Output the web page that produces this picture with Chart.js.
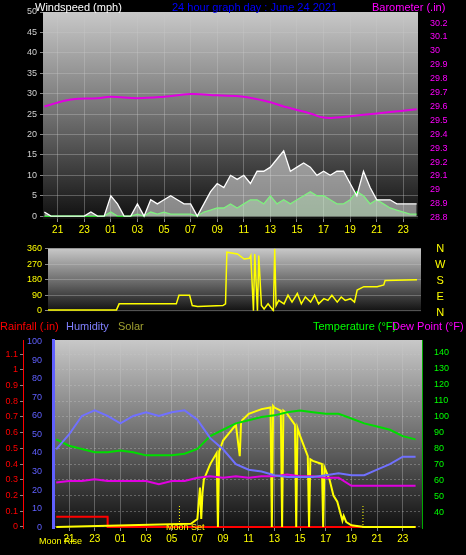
<!DOCTYPE html>
<html><head><meta charset="utf-8">
<script src="https://cdn.jsdelivr.net/npm/chart.js@4.4.1/dist/chart.umd.min.js"></script>
<style>
body{margin:0;background:#000;width:466px;height:555px;overflow:hidden;position:relative;font-family:"Liberation Sans",Arial,sans-serif}
.p{position:absolute}
.t{position:absolute;font-size:11px;white-space:nowrap;line-height:12px}
</style></head><body>
<div class="p" style="left:0;top:0;width:466px;height:240px"><canvas id="c1"></canvas></div>
<div class="p" style="left:0;top:240px;width:466px;height:80px"><canvas id="c2"></canvas></div>
<div class="p" style="left:0;top:320px;width:466px;height:235px"><canvas id="c3"></canvas></div>
<div class="t" style="left:35px;top:1px;color:#fff">Windspeed (mph)</div>
<div class="t" style="left:172px;top:1px;color:#0000ff">24 hour graph day : June 24 2021</div>
<div class="t" style="left:372px;top:1px;color:#ff00ff">Barometer (.in)</div>
<div class="t" style="left:435px;top:240px;color:#ffff00;line-height:16px;text-align:center">N<br>W<br>S<br>E<br>N</div>
<div class="t" style="left:0;top:320px;color:#ff0000">Rainfall (.in)</div>
<div class="t" style="left:66px;top:320px;color:#8080ff">Humidity</div>
<div class="t" style="left:118px;top:320px;color:#a0a030">Solar</div>
<div class="t" style="left:313px;top:320px;color:#00ff00">Temperature (°F)</div>
<div class="t" style="left:392px;top:320px;color:#ff00ff">Dew Point (°F)</div>
<div class="t" style="left:39px;top:535px;color:#ffff00;font-size:9px">Moon Rise</div>
<div class="t" style="left:166px;top:521px;color:#ffff00;font-size:9px">Moon Set</div>
<script>
const hours=[];for(let h=20;h<=48;h+=0.5)hours.push(h);
const gust=[1,0,0,0,0,0,0,1,0,0,5,3,0,0,3,0,4,3,4,5,4,3,3,0,3,6,8,7,10,9,10,8,11,11,12,14,16,11,12,13,12,10,11,10,11,11,8,5,11,7,4,4,4,3,3,3,3];
const avgWind=[0,0,0,0,0,0,0,0,0,0,1,0,0,0,0.5,0,1,0.5,1,0.5,0.5,0.5,0.5,0,1,1.5,2,2,3,2,3,4,4,3,5,3,4,3,4,5,6,5,5,4,3,3,4,6,5,3,4,3,2,1.5,1,0.5,0.5];
const baroHours=[20,22,24,25,27,29,31,33,35,37,38,40,41,42,43,45,47,48];
const baro=[29.60,29.65,29.66,29.67,29.66,29.67,29.69,29.68,29.67,29.63,29.60,29.55,29.52,29.52,29.53,29.55,29.57,29.58];
const dirHours=[20,25.4,25.6,29.9,30.1,30.9,31.1,31.5,33.4,33.6,33.7,34.5,35,35.4,35.5,35.7,35.8,36,36.1,36.3,36.5,36.8,37,37.2,37.3,37.4,37.6,38,38.3,38.6,39,39.3,39.6,40,40.3,40.6,41,41.3,41.6,42,42.3,42.6,43,43.3,43.5,44,45,45.5,45.6,48];
const dirVals=[5,5,40,40,90,90,30,25,30,40,340,330,300,305,320,0,330,0,320,30,10,40,20,0,360,30,60,40,90,50,100,40,80,50,90,40,70,60,90,50,80,60,70,50,120,140,140,150,175,180];
const hh=[20,21,22,23,24,25,26,27,28,29,30,31,32,33,34,35,36,37,38,39,40,41,42,43,44,45,46,47,48];
const humidity=[42,50,60,63,60,56,60,62,60,62,63,58,48,42,34,31,30,28,27,27,27,28,29,28,28,31,34,38,38];
const temperature=[86,82,80,78,78,79,78,76,76,76,77,80,88,92,96,98,100,101,103,104,103,102,102,99,96,94,92,88,86];
const dewPoint=[59,60,60,61,60,60,60,60,58,60,60,62,63,62,63,62,63,63,64,63,63,62,62,57,57,57,57,57,57];
const solarHours=[20,30.5,31,31.2,31.3,31.4,31.5,32,32.5,32.6,32.7,33,33.5,34,34.3,34.4,34.5,35,36,36.7,36.8,36.9,37,37.5,37.6,37.7,38,38.6,38.7,38.8,39,39.6,39.7,39.8,40,40.7,40.8,40.9,41.3,41.6,41.9,42.3,42.4,42.6,43,44,48];
const solar=[0,0.02,0.05,0.25,0.05,0.22,0.3,0.4,0.47,0,0.48,0.55,0.6,0.65,0.45,0.66,0.68,0.72,0.75,0.76,0,0.77,0.76,0.74,0,0.74,0.72,0.65,0,0.63,0.58,0.45,0,0.43,0.42,0.4,0,0.38,0.3,0.2,0.16,0.04,0.07,0.03,0.01,0,0];
const rainHours=[20,24,24.01,48];
const rain=[0.065,0.065,0,0];
const tickHours=[21,23,25,27,29,31,33,35,37,39,41,43,45,47];

const pts=(xs,ys)=>xs.map((x,i)=>({x,y:ys[i]}));
const fmt=v=>String(Math.round(v)%24).padStart(2,'0');
const bg={id:'bg',beforeDraw(c){const a=c.chartArea,g=c.ctx.createLinearGradient(0,a.top,0,a.bottom);g.addColorStop(0,'#c8c8c8');g.addColorStop(0.5,'#707070');g.addColorStop(1,'#101010');c.ctx.fillStyle=g;c.ctx.fillRect(a.left,a.top,a.right-a.left,a.bottom-a.top);}};
const fit=w=>function(s){s.width=w;};
const fitH=h=>function(s){s.height=h;};
const ticksAt=arr=>function(s){s.ticks=arr.map(v=>({value:v}));};
const range=(a,b,st)=>{const o=[];for(let v=a;v<=b+1e-9;v+=st)o.push(+v.toFixed(2));return o;};
const grid={color:'rgba(200,200,200,0.35)',borderDash:[2,2],drawTicks:true,tickColor:'#888',tickLength:3};
function xAxis(min,max,display,h){return{type:'linear',min,max,display,afterFit:fitH(h),afterBuildTicks:ticksAt(tickHours),ticks:{color:'#ffff00',font:{size:10},callback:fmt,maxRotation:0,padding:2},grid,border:{display:false}};}
const base={responsive:false,animation:false,plugins:{legend:{display:false},tooltip:{enabled:false}},elements:{point:{radius:0},line:{borderWidth:1.3,tension:0}}};
function mk(id,w,h){const c=document.getElementById(id);c.width=w;c.height=h;c.style.width=w+'px';c.style.height=h+'px';return c;}

new Chart(mk('c1',466,240),{type:'line',plugins:[bg],data:{datasets:[
 {data:pts(hours,gust),borderColor:'#ffffff',backgroundColor:'rgba(230,230,230,0.55)',fill:'origin',yAxisID:'wind'},
 {data:pts(hours,avgWind),borderColor:'#00ff00',backgroundColor:'rgba(150,255,150,0.4)',fill:'origin',yAxisID:'wind'},
 {data:pts(baroHours,baro),borderColor:'#e000e0',borderWidth:2,yAxisID:'baro',tension:0.4}]},
 options:{...base,layout:{padding:{top:12,left:0,right:0,bottom:0}},scales:{
  x:xAxis(19.9,48.1,true,21),
  wind:{position:'left',min:-0.7,max:50,afterFit:fit(43),afterBuildTicks:ticksAt(range(0,50,5)),ticks:{color:'#d0d0d0',font:{size:9},padding:3},grid,border:{display:false}},
  baro:{position:'right',min:28.79,max:30.28,afterFit:fit(48),afterBuildTicks:ticksAt(range(28.8,30.2,0.1)),ticks:{color:'#ff00ff',font:{size:9},padding:4,callback:v=>+v.toFixed(1)},grid:{display:false},border:{display:false}}}}});

new Chart(mk('c2',466,80),{type:'line',plugins:[bg],data:{datasets:[
 {data:pts(dirHours,dirVals),borderColor:'#ffff00',borderWidth:1.5,yAxisID:'dir'}]},
 options:{...base,layout:{padding:{top:5,bottom:8}},scales:{
  x:xAxis(20.25,48.3,false,0),
  dir:{position:'left',min:-5,max:362,afterFit:fit(48),afterBuildTicks:ticksAt([0,90,180,270,360]),ticks:{color:'#ffff00',font:{size:9},padding:3},grid,border:{display:false}},
  dirR:{position:'right',afterFit:fit(45),display:true,ticks:{display:false},grid:{display:false},border:{display:false}}}}});

const moon={id:'moon',afterDatasetsDraw(c){const x=c.scales.x,a=c.chartArea,ctx=c.ctx;ctx.save();ctx.strokeStyle='#ffff00';ctx.setLineDash([1,2]);[29.6,43.9].forEach(h=>{const px=x.getPixelForValue(h);ctx.beginPath();ctx.moveTo(px,a.bottom);ctx.lineTo(px,a.bottom-22);ctx.stroke();});ctx.restore();}};
new Chart(mk('c3',466,235),{type:'line',plugins:[bg,moon],data:{datasets:[
 {data:pts(hh,humidity),borderColor:'#7070ff',borderWidth:2,yAxisID:'hum'},
 {data:pts(hh,temperature),borderColor:'#00dd00',borderWidth:2,yAxisID:'temp'},
 {data:pts(hh,dewPoint),borderColor:'#e000e0',borderWidth:2,yAxisID:'temp'},
 {data:pts(solarHours,solar),borderColor:'#ffff00',borderWidth:2,yAxisID:'rain'},
 {data:pts(rainHours,rain),borderColor:'#ff0000',borderWidth:2,yAxisID:'rain'}]},
 options:{...base,layout:{padding:{top:20,left:0,right:0,bottom:0}},scales:{
  x:xAxis(19.75,48.5,true,27),
  hum:{position:'left',min:-0.5,max:101,afterFit:fit(30),afterBuildTicks:ticksAt(range(0,100,10)),ticks:{color:'#6060ff',font:{size:9},padding:3},grid:{display:false},border:{color:'#6060ff',width:3}},
  rain:{position:'left',min:-0.007,max:1.19,afterFit:fit(23),afterBuildTicks:ticksAt(range(0,1.1,0.1)),ticks:{color:'#ff0000',font:{size:9},padding:2,callback:v=>String(+v.toFixed(1))},grid,border:{color:'#ff0000',dash:[2,2]}},
  temp:{position:'right',min:30.6,max:148.1,afterFit:fit(44),afterBuildTicks:ticksAt(range(40,140,10)),ticks:{color:'#00ff00',font:{size:9},padding:4},grid:{display:false},border:{color:'#00aa00'}}}}});
</script></body></html>
